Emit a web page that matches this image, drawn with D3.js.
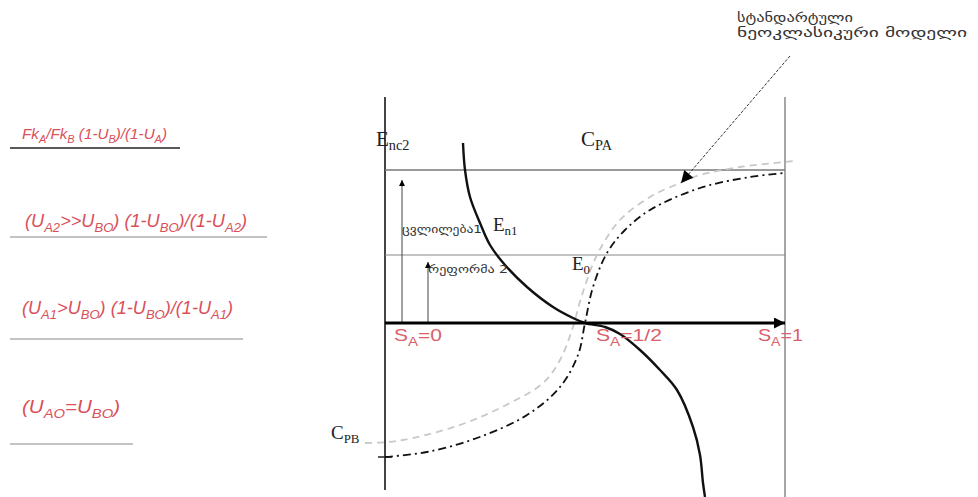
<!DOCTYPE html>
<html><head><meta charset="utf-8">
<script src="https://cdn.jsdelivr.net/npm/d3@7"></script>
<style>body{margin:0;background:#fff}svg{display:block}</style>
</head><body>
<script>
// ---- data (S_A along x, level along y; axis level = 0) ----
const solidCurve = [[0.195,1.80],[0.200,1.53],[0.2125,1.26],[0.2375,1.00],[0.2625,0.78],[0.30,0.58],[0.355,0.36],[0.42,0.16],[0.47,0.05],[0.50,0.00],[0.55,-0.04],[0.5875,-0.11],[0.6375,-0.27],[0.6875,-0.47],[0.73,-0.67],[0.77,-1.04],[0.7875,-1.32],[0.795,-1.60],[0.80,-1.74]];
const dashDotCurve = [[0,-1.34],[0.105,-1.29],[0.23,-1.15],[0.355,-0.92],[0.4375,-0.64],[0.4825,-0.32],[0.50,0.00],[0.52,0.36],[0.555,0.70],[0.60,0.93],[0.6625,1.13],[0.7875,1.35],[0.9125,1.46],[1.0,1.50]];
const lightCurve = [[-0.05,-1.20],[0.03,-1.18],[0.1875,-1.02],[0.3125,-0.80],[0.395,-0.60],[0.4375,-0.37],[0.4675,-0.07],[0.4925,0.28],[0.53,0.68],[0.5875,1.03],[0.6625,1.26],[0.7375,1.40],[0.7875,1.48],[0.8875,1.56],[1.025,1.62]];
const levels = {Enc2:1.53, E0:0.68, axis:0};
const arrowsUp = [[0.0425,1.43],[0.1075,0.61]];
const saTicks = [[0,"0"],[0.5,"1/2"],[1,"1"]];
const leftLabels = [
  [["Fk",0],["A",1],["/Fk",0],["B",1],[" (1-U",0],["B",1],[")/(1-U",0],["A",1],[")",0]],
  [["(U",0],["A2",1],[">>U",0],["BO",1],[") (1-U",0],["BO",1],[")/(1-U",0],["A2",1],[")",0]],
  [["(U",0],["A1",1],[">U",0],["BO",1],[") (1-U",0],["BO",1],[")/(1-U",0],["A1",1],[")",0]],
  [["(U",0],["AO",1],["=U",0],["BO",1],[")",0]]
];
const noteLines = ["სტანდარტული","ნეოკლასიკური მოდელი"];
const change1 = "ცვლილება1", change2 = "რეფორმა 2";

const W=978,H=497;
const svg=d3.select("body").append("svg").attr("width",W).attr("height",H);
const x=d3.scaleLinear().domain([0,1]).range([385,785]);
const y=d3.scaleLinear().domain([-1.74,2.26]).range([497,97]);
const defs=svg.append("defs");
function marker(id,w,h){
  defs.append("marker").attr("id",id).attr("viewBox","0 0 10 10").attr("refX",10).attr("refY",5)
   .attr("markerWidth",w).attr("markerHeight",h).attr("markerUnits","userSpaceOnUse").attr("orient","auto")
   .append("path").attr("d","M0,0L10,5L0,10Z").attr("fill","#000");
}
marker("ah",14,11); marker("as",7,6); marker("ap",14,12);

const line=d3.line().x(d=>x(d[0])).y(d=>y(d[1])).curve(d3.curveCatmullRom.alpha(0.5));

// vertical lines
svg.append("line").attr("x1",x(0)).attr("x2",x(0)).attr("y1",y(2.26)).attr("y2",y(-1.67)).attr("stroke","#444").attr("stroke-width",2);
svg.append("line").attr("x1",x(1)).attr("x2",x(1)).attr("y1",y(2.26)).attr("y2",y(-1.74)).attr("stroke","#888").attr("stroke-width",1.5);
// horizontal levels
svg.append("line").attr("x1",x(0)).attr("x2",x(1)).attr("y1",y(levels.Enc2)).attr("y2",y(levels.Enc2)).attr("stroke","#777").attr("stroke-width",1.6);
svg.append("line").attr("x1",x(0)).attr("x2",x(1)).attr("y1",y(levels.E0)).attr("y2",y(levels.E0)).attr("stroke","#888").attr("stroke-width",1);
// tick on left axis
svg.append("line").attr("x1",x(0)-7).attr("x2",x(0)+7).attr("y1",y(-1.34)).attr("y2",y(-1.34)).attr("stroke","#222").attr("stroke-width",1.5);
// up arrows
arrowsUp.forEach(a=>svg.append("line").attr("x1",x(a[0])).attr("x2",x(a[0])).attr("y1",y(0)).attr("y2",y(a[1]))
  .attr("stroke","#444").attr("stroke-width",1).attr("marker-end","url(#as)"));
// curves
svg.append("path").attr("d",line(lightCurve)).attr("fill","none").attr("stroke","#c8c8c8").attr("stroke-width",1.8).attr("stroke-dasharray","7,5");
svg.append("path").attr("d",line(dashDotCurve)).attr("fill","none").attr("stroke","#111").attr("stroke-width",1.8).attr("stroke-dasharray","8,4,2,4");
svg.append("path").attr("d",line(solidCurve)).attr("fill","none").attr("stroke","#111").attr("stroke-width",2.4);
// main horizontal axis
svg.append("line").attr("x1",x(0)).attr("x2",x(1)).attr("y1",y(0)).attr("y2",y(0)).attr("stroke","#000").attr("stroke-width",3.2).attr("marker-end","url(#ah)");

// pointer arrow from note
svg.append("line").attr("x1",790).attr("y1",56).attr("x2",x(0.74)).attr("y2",y(1.40))
  .attr("stroke","#333").attr("stroke-width",1).attr("stroke-dasharray","3,1.5").attr("marker-end","url(#ap)");

// rich text helper
function rich(parts,px,py,size,opt){
  const t=svg.append("text").attr("x",px).attr("y",py).attr("font-size",size)
    .attr("font-family",opt.family).attr("fill",opt.fill);
  if(opt.italic) t.attr("font-style","italic");
  let sub=false;
  parts.forEach(p=>{
    const ts=t.append("tspan").text(p[0]);
    if(p[1]&&!sub){ts.attr("dy",size*opt.subDy).attr("font-size",size*opt.subScale);sub=true;}
    else if(p[1]){ts.attr("font-size",size*opt.subScale);}
    else if(!p[1]&&sub){ts.attr("dy",-size*opt.subDy);sub=false;}
  });
  if(opt.len) t.attr("textLength",opt.len).attr("lengthAdjust","spacingAndGlyphs");
  return t;
}
const serif={family:"'Liberation Serif','DejaVu Serif',serif",fill:"#222",subDy:0.2,subScale:0.68};
rich([["E",0],["nc2",1]],376,146,21,serif);
rich([["C",0],["PA",1]],581,146,21,serif);
rich([["E",0],["n1",1]],493,231,19,serif);
rich([["E",0],["0",1]],572,270,19,serif);
rich([["C",0],["PB",1]],331,439,19,serif);

const redOpt={family:"'Liberation Sans','Arial',sans-serif",fill:"#d9606a",subDy:0.28,subScale:0.72};
const saPos=[[x(0)+9,48],[x(0.5)+11,66],[x(1)-27,45]];
saTicks.forEach((d,i)=>{
  rich([["S",0],["A",1],["="+d[1],0]],saPos[i][0],341,17,Object.assign({},redOpt,{len:saPos[i][1]}));
});

const leftOpt={family:"'Liberation Sans Narrow','Liberation Sans',sans-serif",fill:"#d9505a",italic:true,subDy:0.28,subScale:0.72};
const leftPos=[[22,139,15,145,180,148,"#222",1.5],[25,227,19,222,267,237,"#888",1],[22,314,19,211,243,339,"#888",1],[22,413,19,98,133,444,"#888",1]];
leftLabels.forEach((parts,i)=>{
  const p=leftPos[i];
  rich(parts,p[0],p[1],p[2],Object.assign({},leftOpt,{len:p[3]}));
  svg.append("line").attr("x1",10).attr("x2",p[4]).attr("y1",p[5]).attr("y2",p[5]).attr("stroke",p[6]).attr("stroke-width",p[7]);
});

// Georgian labels
const geo="'DejaVu Sans','Noto Sans',sans-serif";
svg.append("text").attr("x",402).attr("y",233).attr("font-size",10).attr("font-family",geo).attr("fill","#333")
  .attr("textLength",80).attr("lengthAdjust","spacingAndGlyphs").text(change1);
svg.append("text").attr("x",428).attr("y",273).attr("font-size",10).attr("font-family",geo).attr("fill","#333")
  .attr("textLength",80).attr("lengthAdjust","spacingAndGlyphs").text(change2);
noteLines.forEach((s,i)=>svg.append("text").attr("x",737).attr("y",22+i*15).attr("font-size",13).attr("font-family",geo)
  .attr("fill","#333").attr("textLength",i?230:116).attr("lengthAdjust","spacingAndGlyphs").text(s));
</script>
</body></html>
